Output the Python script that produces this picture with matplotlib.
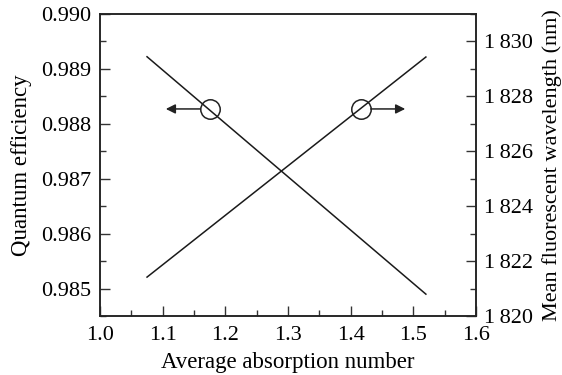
import matplotlib
matplotlib.use("Agg")
import matplotlib.pyplot as plt
from matplotlib.ticker import MultipleLocator, FuncFormatter

plt.rcParams['font.family'] = ['Liberation Serif', 'DejaVu Serif']
plt.rcParams['font.size'] = 15

# Data
absorption = [1.075, 1.52]
quantum_eff = [0.98922, 0.98490]
wavelength = [1821.42, 1829.43]

fig = plt.figure(figsize=(5.62, 3.75), dpi=100)
ax = fig.add_axes([0.178, 0.157, 0.669, 0.806])
ax2 = ax.twinx()

ax.plot(absorption, quantum_eff, color='#1a1a1a', lw=1.1)
ax2.plot(absorption, wavelength, color='#1a1a1a', lw=1.1)

ax.set_xlim(1.0, 1.6)
ax.set_ylim(0.9845, 0.990)
ax2.set_ylim(1820, 1831)

ax.xaxis.set_major_locator(MultipleLocator(0.1))
ax.xaxis.set_minor_locator(MultipleLocator(0.05))
ax.yaxis.set_major_locator(MultipleLocator(0.001))
ax.yaxis.set_minor_locator(MultipleLocator(0.0005))
ax2.yaxis.set_major_locator(MultipleLocator(2))
ax2.yaxis.set_minor_locator(MultipleLocator(1))

ax.xaxis.set_major_formatter(FuncFormatter(lambda v, p: f"{v:.1f}"))
ax.yaxis.set_major_formatter(FuncFormatter(lambda v, p: f"{v:.3f}"))
ax2.yaxis.set_major_formatter(FuncFormatter(lambda v, p: f"{int(round(v))//1000}\u2009{int(round(v))%1000:03d}"))

for a in (ax, ax2):
    a.tick_params(which='major', direction='in', length=7, width=1.0, color='#333333',
                  labelsize=16, pad=6)
    a.tick_params(which='minor', direction='in', length=4.5, width=1.0, color='#333333')
    for s in a.spines.values():
        s.set_linewidth(1.1)
        s.set_color('#222222')
ax.tick_params(axis='both', which='both', top=False, right=False)
ax2.tick_params(axis='y', which='both', left=False, right=True)
ax.tick_params(axis='x', pad=7)

ax.set_xlabel("Average absorption number", fontsize=16.5, labelpad=5)
ax.set_ylabel("Quantum efficiency", fontsize=16.5, labelpad=7)
ax2.set_ylabel("Mean fluorescent wavelength (nm)", fontsize=16, labelpad=6)

# Circles and arrows
ax.plot([1.175], [0.98827], marker='o', ms=14, mfc='none', mec='#222222', mew=1.1)
ax.annotate("", xy=(1.105, 0.98827), xytext=(1.16, 0.98827),
            arrowprops=dict(arrowstyle='-|>', color='#222222', lw=1.1, mutation_scale=14,
                            shrinkA=0, shrinkB=0))
ax.plot([1.417], [0.98827], marker='o', ms=14, mfc='none', mec='#222222', mew=1.1)
ax.annotate("", xy=(1.487, 0.98827), xytext=(1.432, 0.98827),
            arrowprops=dict(arrowstyle='-|>', color='#222222', lw=1.1, mutation_scale=14,
                            shrinkA=0, shrinkB=0))

fig.savefig("out.png", dpi=100)
